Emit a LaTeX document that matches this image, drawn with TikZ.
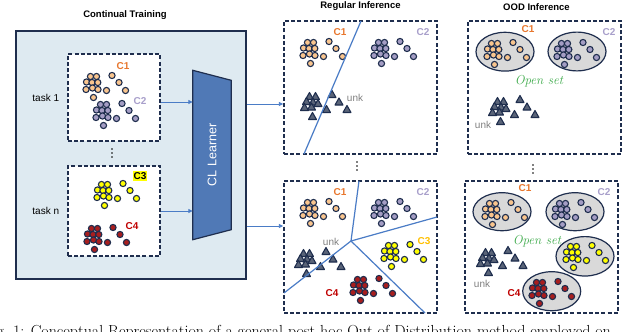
\documentclass[tikz,border=0pt]{standalone}
\usepackage{fontspec}
\newfontfamily\arialf{Liberation Sans}
\usetikzlibrary{positioning, arrows.meta, calc}
\definecolor{clnavy}{HTML}{1F2E4E}
\definecolor{clsky}{HTML}{DEEAF1}
\definecolor{clsteel}{HTML}{5079B6}
\definecolor{clline}{HTML}{4A7CC6}
\definecolor{clpeach}{HTML}{F9C58E}
\definecolor{cllav}{HTML}{A49DC4}
\definecolor{clyel}{HTML}{FFFF00}
\definecolor{clred}{HTML}{A81E1E}
\definecolor{clorange}{HTML}{E8772E}
\definecolor{clpurple}{HTML}{A89FCB}
\definecolor{clgold}{HTML}{FFC000}
\definecolor{cldark}{HTML}{C00000}
\definecolor{clslate}{HTML}{5A6478}
\definecolor{clgreen}{HTML}{3DAA4A}
\definecolor{clgrey}{HTML}{808080}
\definecolor{clhull}{HTML}{D9D9D9}

\tikzset{
  ball/.style={draw=clnavy, line width=1.1pt, fill=#1},
  tri/.style={draw=clnavy, line width=1.1pt, fill=clslate, line join=round},
  hull/.style={draw=clnavy, line width=1.2pt, fill=clhull},
  pics/cluster/.style={code={
    \foreach \dx/\dy in {-1.5/-7.5, 4.5/-7.5, -5.5/-2, 0/-1.5, 5.8/-1.5, -6/5.5, 0.5/4, 6/5.5, 1.5/13.5, 14.5/6.5, 20/-8.5, 27/-1.5, 33.5/6.5}
      \draw[ball=#1] (\dx,\dy) circle[radius=3.1pt];}},
  pics/unkset/.style={code={
    \foreach \dx/\dy in {-2.5/-7, 3.5/-7, -5.5/-2, 1/-1.5, 6/0, -7.5/4, -0.5/3.5, 0.5/13, 14.5/6, 20/-9, 27/-1.5, 35/6}
      \draw[tri] (\dx,\dy-4.5) -- (\dx+4,\dy+2.5) -- (\dx-4,\dy+2.5) -- cycle;}},
  pics/vdots/.style={code={
    \foreach \dy in {-4,0,4}
      \fill (0,\dy) circle[radius=0.8pt];}},
  box/.style={draw=clnavy, line width=1.4pt, dash pattern=on 4pt off 2.2pt, fill=white, inner sep=0},
  flow/.style={draw=clline, line width=0.9pt, -{Triangle[length=4.5pt,width=4pt]}},
  bound/.style={draw=clline, line width=1.2pt},
  ttl/.style={font=\arialf\bfseries\fontsize{9.5}{11}\selectfont, inner sep=0},
  lbl/.style={font=\arialf\bfseries\fontsize{10}{12}\selectfont, inner sep=0},
  txt/.style={font=\arialf\fontsize{10}{12}\selectfont, inner sep=0},
  openset/.style={font=\fontsize{13}{14}\selectfont\itshape, text=clgreen, inner sep=0}
}

\begin{document}
\begin{tikzpicture}[x=1pt, y=-1pt]
  \useasboundingbox (0,0) rectangle (640,332);

  \node[draw=clnavy, line width=1.5pt, fill=clsky, minimum width=230pt, minimum height=248pt, inner sep=0] (train) at (131,155) {};
  \node[ttl, above=11pt of train, xshift=-6pt] (ttrain) {Continual Training};
  \node[box, minimum width=92pt, minimum height=87pt] (t1) at (114,97.5) {};
  \node[box, minimum width=92pt, minimum height=90pt] (tn) at (114,211) {};
  \node[txt, left=8pt of t1] (lt1) {task 1};
  \node[txt, left=8pt of tn] (ltn) {task n};
  \pic at (112,153) {vdots};

  \pic at (92,84) {cluster=clpeach};
  \pic at (102,112) {cluster=cllav};
  \pic at (103,192) {cluster=clyel};
  \pic at (93,236) {cluster=clred};
  \node[lbl, text=clorange] (t1c1) at (123,66) {C1};
  \node[lbl, text=clpurple] (t1c2) at (140,101) {C2};
  \node[lbl, fill=clyel, inner sep=1pt] (tnc3) at (140,176) {C3};
  \node[lbl, text=cldark] (tnc4) at (132,226) {C4};

  \node[minimum width=38pt, minimum height=169pt, inner sep=0] (learner) at (212,155) {};
  \draw[draw=clnavy, line width=1.2pt, fill=clsteel] (learner.north west) -- ([yshift=-10pt]learner.north east)
    -- ([yshift=10pt]learner.south east) -- (learner.south west) -- cycle;
  \node[rotate=90, text=white, font=\arialf\fontsize{12.5}{14}\selectfont] (lname) at (learner.center) {CL Learner};

  \coordinate (out1) at ([yshift=-4.5pt]t1.east);
  \draw[flow] (out1) -- (out1 -| learner.west);
  \draw[flow] (tn.east) -- (tn.east -| learner.west);

  \node[box, minimum width=153pt, minimum height=133pt] (ri1) at (360.5,87.5) {};
  \node[box, minimum width=153pt, minimum height=132pt] (ri2) at (360.5,247) {};
  \node[ttl, above=10pt of ri1] (tri) {Regular Inference};
  \pic at (357,166) {vdots};
  \coordinate (in1) at ([yshift=-16.5pt]ri1.west);
  \coordinate (in2) at ([yshift=21pt]ri2.west);
  \draw[flow] (in1 -| train.east) -- (in1);
  \draw[flow] (in2 -| train.east) -- (in2);

  \pic at (309,50) {cluster=clpeach};
  \pic at (380,50) {cluster=cllav};
  \pic at (312,104) {unkset};
  \draw[bound] (361,21) -- (304,154);
  \node[lbl, text=clorange] (r1c1) at (340,32) {C1};
  \node[lbl, text=clpurple] (r1c2) at (423,32) {C2};
  \node[txt, text=clgrey] (r1u) at (355,98) {unk};

  \pic at (309,210) {cluster=clpeach};
  \pic at (380,210) {cluster=cllav};
  \pic at (390,253) {cluster=clyel};
  \pic at (359,287) {cluster=clred};
  \pic at (306,261) {unkset};
  \coordinate (hub) at (351,241);
  \draw[bound] (hub) -- (359,181);
  \draw[bound] (hub) -- (437,217);
  \draw[bound] (hub) -- (425,313);
  \draw[bound] (hub) -- (284,293);
  \node[lbl, text=clorange] (r2c1) at (340,192) {C1};
  \node[lbl, text=clpurple] (r2c2) at (423,192) {C2};
  \node[lbl, text=clgold] (r2c3) at (424,241) {C3};
  \node[lbl, text=cldark] (r2c4) at (332,293) {C4};
  \node[txt, text=clgrey] (r2u) at (331,242) {unk};

  \node[box, minimum width=153pt, minimum height=133pt] (ood1) at (544.5,87.5) {};
  \node[box, minimum width=153pt, minimum height=132pt] (ood2) at (541.5,247) {};
  \node[ttl, above=10pt of ood1, xshift=-8pt] (tood) {OOD Inference};
  \pic at (533,169) {vdots};

  \draw[hull] (505,51.7) ellipse[x radius=29pt, y radius=19.4pt];
  \draw[hull] (577,51.5) ellipse[x radius=29pt, y radius=19.4pt];
  \pic at (493,51) {cluster=clpeach};
  \pic at (563,51) {cluster=cllav};
  \pic at (500,109) {unkset};
  \node[lbl, text=clorange] (o1c1) at (528,29) {C1};
  \node[lbl, text=clpurple] (o1c2) at (609,32) {C2};
  \node[openset] (o1os) at (539,81) {Open set};
  \node[txt, text=clgrey] (o1u) at (483,125) {unk};

  \draw[hull] (502,211.7) ellipse[x radius=29pt, y radius=19pt];
  \draw[hull] (575,211.7) ellipse[x radius=29pt, y radius=19pt];
  \draw[hull] (585,256.3) ellipse[x radius=29pt, y radius=19.7pt];
  \draw[hull] (551.7,291.2) ellipse[x radius=29pt, y radius=19.5pt];
  \pic at (491,211) {cluster=clpeach};
  \pic at (561,211) {cluster=cllav};
  \pic at (572,254) {cluster=clyel};
  \pic at (538,290) {cluster=clred};
  \pic at (488,260) {unkset};
  \node[lbl, text=clorange] (o2c1) at (525,188) {C1};
  \node[lbl, text=clpurple] (o2c2) at (604,192) {C2};
  \node[lbl, text=cldark] (o2c4) at (514,293) {C4};
  \node[openset] (o2os) at (537,241) {Open set};
  \node[txt, text=clgrey] (o2u) at (482,284) {unk};

  \begin{scope}
    \clip (0,0) rectangle (640,332);
    \node[anchor=base west, inner sep=0, font=\fontsize{16}{18}\selectfont] (caption) at (-17,336)
      {Fig.~1: Conceptual Representation of a general post-hoc Out of Distribution method employed on};
  \end{scope}
\end{tikzpicture}
\end{document}
